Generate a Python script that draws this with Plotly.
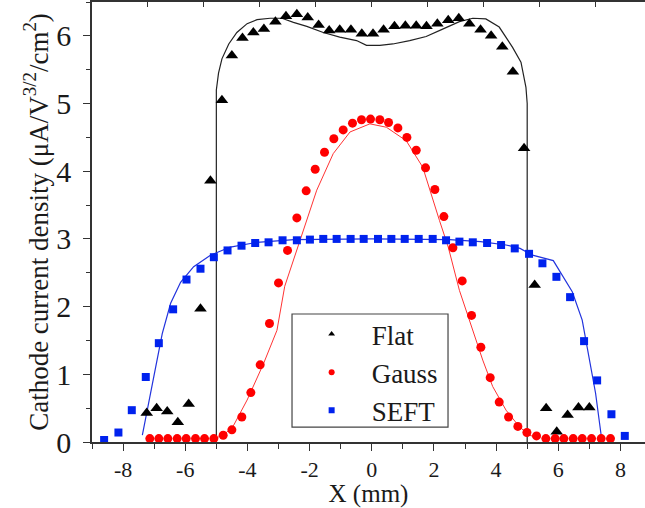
import plotly.graph_objects as go

# ---- Flat (triangles, measured) ----
flat_x = [-7.24, -6.92, -6.58, -6.24, -5.89, -5.51, -5.19, -4.82, -4.50, -4.16,
          -3.81, -3.47, -3.10, -2.76, -2.41, -2.06, -1.71, -1.37, -1.03, -0.67,
          -0.32, 0.04, 0.38, 0.73, 1.08, 1.43, 1.76, 2.11, 2.46, 2.80,
          3.14, 3.50, 3.84, 4.20, 4.54, 4.90, 5.24, 5.61, 5.95, 6.30,
          6.65, 7.00]
flat_y = [0.43, 0.50, 0.45, 0.29, 0.56, 1.97, 3.86, 5.05, 5.71, 5.97,
          6.05, 6.10, 6.21, 6.29, 6.32, 6.27, 6.16, 6.08, 6.09, 6.09,
          6.03, 6.03, 6.09, 6.14, 6.15, 6.15, 6.14, 6.18, 6.23, 6.26,
          6.18, 6.09, 6.00, 5.84, 5.47, 4.34, 2.32, 0.50, 0.15, 0.40,
          0.51, 0.51]

# ---- Flat (simulation line) ----
flat_line_x = [-5.0, -5.0, -4.93, -4.82, -4.60, -4.34, -4.01, -3.69, -3.27, -2.89,
               -2.52, -2.09, -1.56, -1.03, -0.49, -0.17, 0.26, 0.68, 1.22, 1.75,
               2.28, 2.82, 3.25, 3.67, 4.10, 4.53, 4.80, 4.90, 4.96, 5.0, 5.0]
flat_line_y = [0.0, 5.20, 5.45, 5.66, 5.88, 6.05, 6.18, 6.24, 6.26, 6.26,
               6.20, 6.14, 6.05, 5.98, 5.93, 5.86, 5.86, 5.88, 5.93, 5.99,
               6.10, 6.21, 6.26, 6.25, 6.13, 5.83, 5.61, 5.39, 5.24, 5.00, 0.0]

# ---- Gauss (circles, measured) ----
gauss_x = [-7.14, -6.85, -6.56, -6.26, -5.97, -5.67, -5.38, -5.08, -4.78, -4.50,
           -4.18, -3.89, -3.59, -3.29, -3.00, -2.71, -2.41, -2.11, -1.82, -1.52,
           -1.22, -0.92, -0.62, -0.33, -0.04, 0.26, 0.54, 0.84, 1.13, 1.43,
           1.73, 2.03, 2.32, 2.61, 2.91, 3.21, 3.51, 3.81, 4.10, 4.40,
           4.70, 4.99, 5.30, 5.60, 5.90, 6.18, 6.48, 6.77, 7.07, 7.38, 7.68]
gauss_y = [0.05, 0.05, 0.05, 0.05, 0.05, 0.05, 0.05, 0.05, 0.10, 0.18,
           0.37, 0.73, 1.14, 1.75, 2.35, 2.83, 3.31, 3.71, 4.03, 4.28,
           4.48, 4.61, 4.71, 4.76, 4.77, 4.76, 4.72, 4.64, 4.50, 4.31,
           4.05, 3.73, 3.33, 2.87, 2.38, 1.87, 1.40, 0.95, 0.59, 0.37,
           0.23, 0.14, 0.09, 0.05, 0.05, 0.05, 0.05, 0.05, 0.05, 0.05, 0.05]

# ---- Gauss (simulation line) ----
gauss_line_x = [-5.0, -4.72, -4.44, -4.01, -3.48, -3.05, -2.80, -2.31, -1.77, -1.24,
                -0.70, -0.06, 0.47, 1.11, 1.64, 2.18, 2.46, 2.82, 3.25, 3.57,
                3.89, 4.32, 4.74, 5.06, 5.40]
gauss_line_y = [0.06, 0.12, 0.25, 0.62, 1.16, 1.65, 2.30, 2.98, 3.72, 4.26,
                4.58, 4.70, 4.65, 4.45, 4.06, 3.27, 2.88, 2.24, 1.65, 1.21,
                0.82, 0.47, 0.23, 0.10, 0.06]

# ---- SEFT (squares, measured) ----
seft_x = [-8.61, -8.15, -7.72, -7.27, -6.85, -6.39, -5.96, -5.51, -5.08, -4.64,
          -4.19, -3.75, -3.32, -2.87, -2.41, -1.99, -1.56, -1.13, -0.68, -0.26,
          0.20, 0.63, 1.06, 1.51, 1.96, 2.39, 2.82, 3.25, 3.71, 4.16,
          4.60, 5.06, 5.49, 5.94, 6.38, 6.83, 7.25, 7.71, 8.14]
seft_y = [0.03, 0.14, 0.47, 0.96, 1.46, 1.96, 2.40, 2.56, 2.73, 2.83,
          2.90, 2.94, 2.95, 2.98, 2.98, 2.99, 3.00, 3.00, 3.00, 3.00,
          3.00, 3.00, 3.00, 3.00, 3.00, 2.98, 2.96, 2.95, 2.94, 2.91,
          2.86, 2.78, 2.64, 2.44, 2.14, 1.49, 0.91, 0.41, 0.09]

# ---- SEFT (simulation line) ----
seft_line_x = [-7.38, -7.17, -6.95, -6.74, -6.47, -6.15, -5.73, -5.19, -4.55, -3.69,
               -2.50, 0.00, 2.50, 3.50, 4.32, 4.77, 5.17, 5.84, 6.45, 6.77,
               6.99, 7.20, 7.38]
seft_line_y = [0.10, 0.62, 1.11, 1.60, 2.05, 2.36, 2.59, 2.76, 2.88, 2.95,
               2.99, 3.00, 2.99, 2.96, 2.91, 2.86, 2.76, 2.68, 2.22, 1.80,
               1.26, 0.72, 0.10]

y_ticks = [0, 1, 2, 3, 4, 5, 6]
x_ticks = [-8, -6, -4, -2, 0, 2, 4, 6, 8]
x_tick_labels = ["-8", "-6", "-4", "-2", "0", "2", "4", "6", "8"]
top_ticks = [-7.2, -5.4, -3.6, -1.8, 0, 1.8, 3.6, 5.4, 7.2]
legend_names = ["Flat", "Gauss", "SEFT"]

FONT = "Liberation Serif, Times New Roman, serif"
AX = "#333333"

fig = go.Figure()

fig.add_trace(go.Scatter(x=flat_line_x, y=flat_line_y, mode="lines",
                         line=dict(color="#222222", width=1.2), showlegend=False))
fig.add_trace(go.Scatter(x=gauss_line_x, y=gauss_line_y, mode="lines",
                         line=dict(color="#ff3333", width=1.0), showlegend=False))
fig.add_trace(go.Scatter(x=seft_line_x, y=seft_line_y, mode="lines",
                         line=dict(color="#2233dd", width=1.2), showlegend=False))

fig.add_trace(go.Scatter(x=flat_x, y=flat_y, mode="markers", cliponaxis=False,
                         marker=dict(symbol="triangle-up", size=11, color="black"),
                         showlegend=False))
fig.add_trace(go.Scatter(x=gauss_x, y=gauss_y, mode="markers", cliponaxis=False,
                         marker=dict(symbol="circle", size=9, color="#ff0000"),
                         showlegend=False))
fig.add_trace(go.Scatter(x=seft_x, y=seft_y, mode="markers", cliponaxis=False,
                         marker=dict(symbol="square", size=8, color="#0022ee"),
                         showlegend=False))

# legend entries (small symbols as in the original legend)
for name, sym, col in zip(legend_names, ["triangle-up", "circle", "square"],
                          ["black", "#ff0000", "#0022ee"]):
    fig.add_trace(go.Scatter(x=[None], y=[None], mode="markers", name=name,
                             marker=dict(symbol=sym, size=6, color=col)))

# empty trace to activate top axis
fig.add_trace(go.Scatter(x=[None], y=[None], xaxis="x2", showlegend=False))

# legend frame
fig.add_shape(type="rect", xref="paper", yref="paper",
              x0=0.3617, x1=0.6438, y0=0.034, y1=0.2909,
              line=dict(color="#444444", width=1.2), fillcolor="white", layer="above")

fig.update_layout(
    width=645, height=508,
    margin=dict(l=92, r=0, t=2, b=66),
    paper_bgcolor="white", plot_bgcolor="white",
    font=dict(family=FONT, color="#1a1a1a"),
    xaxis=dict(range=[-9, 8.79], tickvals=x_ticks, ticktext=x_tick_labels,
               ticks="outside", ticklen=7,
               tickwidth=1.3, tickcolor=AX, showline=True, linecolor=AX, linewidth=1.5,
               showgrid=False, zeroline=False,
               minor=dict(dtick=1, tick0=0, ticks="outside", ticklen=5, tickcolor=AX, tickwidth=1.2),
               tickfont=dict(size=22),
               title=dict(text="X (mm)", font=dict(size=25), standoff=0)),
    xaxis2=dict(range=[-9, 8.79], overlaying="x", side="top", tickvals=top_ticks,
                ticks="inside", ticklen=5, tickcolor=AX, tickwidth=1.2,
                showticklabels=False, showline=True, linecolor=AX, linewidth=1.5,
                showgrid=False, zeroline=False),
    yaxis=dict(range=[0, 6.5], tickvals=y_ticks, ticks="outside", ticklen=7,
               tickwidth=1.3, tickcolor=AX, showline=True, linecolor=AX, linewidth=1.5,
               showgrid=False, zeroline=False,
               minor=dict(dtick=0.5, tick0=0, ticks="outside", ticklen=4, tickcolor=AX, tickwidth=1.2),
               tickfont=dict(size=30), ticklabelstandoff=6,
               title=dict(text="Cathode current density (μA/V<sup>3/2</sup>/cm<sup>2</sup>)",
                          font=dict(size=27), standoff=0)),
    legend=dict(x=0.361, y=0.30, xanchor="left", yanchor="top",
                bgcolor="rgba(0,0,0,0)", borderwidth=0,
                font=dict(size=27), itemwidth=70, tracegroupgap=0),
)

fig.write_html("out.html", config={"displayModeBar": False},
               post_script="document.body.style.margin='0';")
